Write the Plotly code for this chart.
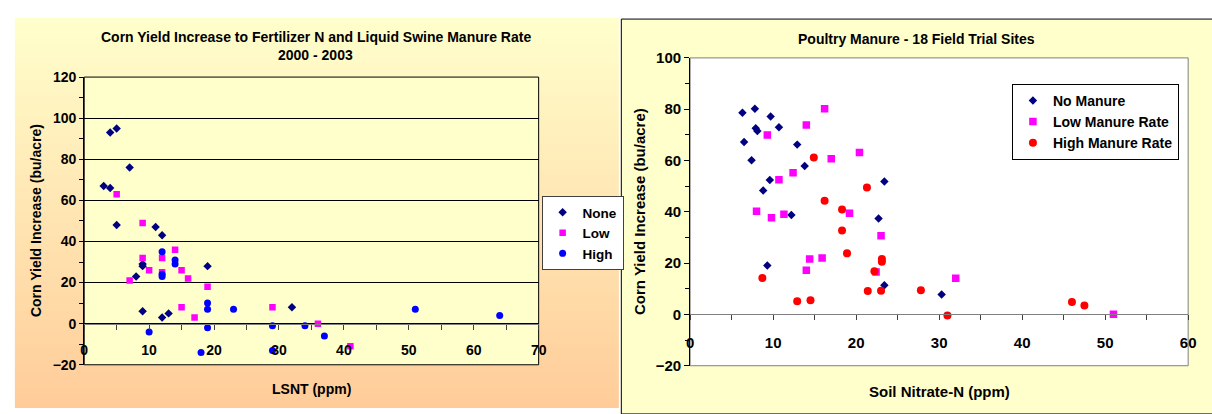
import plotly.graph_objects as go

W, H = 1212, 414

# ---------------- Left chart: swine manure, LSNT vs yield increase ----------------
none_x = [3, 4, 5, 7, 4, 5, 11, 12, 9, 9, 8, 19, 9, 12, 13, 32]
none_y = [67, 93, 95, 76, 66, 48, 47, 43, 29, 28, 23, 28, 6, 3, 5, 8]
low_x = [5, 9, 14, 9, 12, 10, 15, 12, 16, 7, 19, 15, 17, 29, 36, 41]
low_y = [63, 49, 36, 32, 32, 26, 26, 25, 22, 21, 18, 8, 3, 8, 0, -11]
high_x = [12, 14, 14, 12, 12, 19, 19, 23, 10, 19, 18, 29, 34, 37, 29, 51, 64]
high_y = [35, 31, 29, 24, 23, 10, 7, 7, -4, -2, -14, -1, -1, -6, -13, 7, 4]

# ---------------- Right chart: poultry manure, soil nitrate vs yield increase ----------------
nm_x = [6.3, 7.8, 9.7, 7.9, 8.1, 10.7, 6.5, 12.9, 7.4, 13.8, 9.6, 8.8, 12.2, 22.7, 23.4, 9.3, 23.4, 30.3]
nm_y = [78.6, 80.2, 77.2, 72.6, 71.5, 73.0, 67.2, 66.2, 60.1, 57.9, 52.4, 48.3, 38.8, 37.4, 51.8, 19.1, 11.4, 7.8]
lm_x = [16.2, 14.0, 9.3, 17.0, 20.4, 12.4, 10.7, 8.0, 9.8, 11.3, 19.2, 23.0, 14.4, 15.9, 14.0, 22.4, 32.0, 51.0]
lm_y = [80.2, 73.8, 69.9, 60.7, 63.1, 55.2, 52.5, 40.2, 37.7, 39.1, 39.4, 30.7, 21.6, 22.0, 17.2, 16.5, 14.1, 0.1]
hm_x = [14.9, 21.3, 16.2, 18.3, 18.3, 18.9, 23.1, 23.1, 8.7, 22.2, 21.4, 23.0, 12.9, 14.5, 27.8, 31.0, 46.0, 47.5]
hm_y = [61.2, 49.5, 44.3, 40.9, 32.7, 23.8, 21.6, 20.5, 14.2, 16.8, 9.1, 9.2, 5.1, 5.5, 9.4, -0.4, 4.85, 3.5]

left_title1 = "Corn Yield Increase to Fertilizer N and Liquid Swine Manure Rate"
left_title2 = "2000 - 2003"
right_title = "Poultry Manure - 18 Field Trial Sites"
y_title = "Corn Yield Increase (bu/acre)"
left_x_title = "LSNT (ppm)"
right_x_title = "Soil Nitrate-N (ppm)"

FONT = "Liberation Sans, Arial, sans-serif"
NAVY, MAGENTA, BLUE, RED = "#000080", "#FF00FF", "#0000FF", "#FF0000"


def px(x):
    return x / W


def py(y):
    return 1 - y / H


L_RANGE_X, L_RANGE_Y = [0, 70], [-20, 120]
R_RANGE_X, R_RANGE_Y = [0, 60], [-20, 100]
L_DOM_X, L_DOM_Y = [px(81), px(540)], [py(371), py(71)]
R_DOM_X, R_DOM_Y = [px(693), px(1196)], [py(372), py(51)]


def zero_pos(dom, rng):
    return dom[0] + (0 - rng[0]) / (rng[1] - rng[0]) * (dom[1] - dom[0])


fig = go.Figure()

fig.add_trace(go.Scatter(x=none_x, y=none_y, mode="markers", name="None",
                         marker=dict(symbol="diamond", size=6.5, color=NAVY),
                         xaxis="x", yaxis="y", legend="legend"))
fig.add_trace(go.Scatter(x=low_x, y=low_y, mode="markers", name="Low",
                         marker=dict(symbol="square", size=6.5, color=MAGENTA),
                         xaxis="x", yaxis="y", legend="legend"))
fig.add_trace(go.Scatter(x=high_x, y=high_y, mode="markers", name="High",
                         marker=dict(symbol="circle", size=7, color=BLUE),
                         xaxis="x", yaxis="y", legend="legend"))

fig.add_trace(go.Scatter(x=nm_x, y=nm_y, mode="markers", name="No Manure",
                         marker=dict(symbol="diamond", size=6.5, color=NAVY),
                         xaxis="x2", yaxis="y2", legend="legend2"))
fig.add_trace(go.Scatter(x=lm_x, y=lm_y, mode="markers", name="Low Manure Rate",
                         marker=dict(symbol="square", size=7.5, color=MAGENTA),
                         xaxis="x2", yaxis="y2", legend="legend2"))
fig.add_trace(go.Scatter(x=hm_x, y=hm_y, mode="markers", name="High Manure Rate",
                         marker=dict(symbol="circle", size=8, color=RED),
                         xaxis="x2", yaxis="y2", legend="legend2"))

shapes = []
# left panel gradient background (light yellow -> peach)
top_c, bot_c = (255, 255, 204), (255, 204, 153)
y_top, y_bot = 9, 416
n = 80
step = (y_bot - y_top) / n
for i in range(n):
    t = (i + 0.5) / n
    c = tuple(round(top_c[k] + (bot_c[k] - top_c[k]) * t) for k in range(3))
    y0 = y_top + i * step
    y1 = y0 + step + 0.8
    shapes.append(dict(type="rect", xref="paper", yref="paper", layer="below",
                       x0=px(11), x1=px(621), y0=py(min(y1, y_bot)), y1=py(y0),
                       fillcolor="rgb(%d,%d,%d)" % c, line=dict(width=0)))
# right panel background
shapes.append(dict(type="rect", xref="paper", yref="paper", layer="below",
                   x0=px(623.5), x1=1.02, y0=-0.02, y1=py(10.5),
                   fillcolor="#FFFFCC", line=dict(color="black", width=1)))
# plot areas
shapes.append(dict(type="rect", xref="x domain", yref="y domain", layer="below",
                   x0=0, x1=1, y0=0, y1=1, fillcolor="#FFFFCC",
                   line=dict(color="black", width=1)))
shapes.append(dict(type="rect", xref="x2 domain", yref="y2 domain", layer="below",
                   x0=0, x1=1, y0=0, y1=1, fillcolor="white",
                   line=dict(color="#808080", width=1)))

tf_l = dict(family=FONT, size=14, color="black", weight="bold")
tf_r = dict(family=FONT, size=15, color="black", weight="bold")

annotations = [
    dict(text=left_title1, x=px(315), y=py(29), xref="paper", yref="paper",
         showarrow=False, xanchor="center", yanchor="middle",
         font=dict(family=FONT, size=14, color="black", weight="bold")),
    dict(text=left_title2, x=px(315), y=py(48), xref="paper", yref="paper",
         showarrow=False, xanchor="center", yanchor="middle",
         font=dict(family=FONT, size=14, color="black", weight="bold")),
    dict(text=right_title, x=px(922), y=py(31), xref="paper", yref="paper",
         showarrow=False, xanchor="center", yanchor="middle",
         font=dict(family=FONT, size=14, color="black", weight="bold")),
    dict(text=y_title, x=px(32.5), y=py(221), xref="paper", yref="paper",
         showarrow=False, xanchor="center", yanchor="middle", textangle=-90,
         font=dict(family=FONT, size=14, color="black", weight="bold")),
    dict(text=y_title, x=px(642), y=py(211), xref="paper", yref="paper",
         showarrow=False, xanchor="center", yanchor="middle", textangle=-90,
         font=dict(family=FONT, size=15, color="black", weight="bold")),
    dict(text=left_x_title, x=px(311), y=py(396), xref="paper", yref="paper",
         showarrow=False, xanchor="center", yanchor="middle",
         font=dict(family=FONT, size=14, color="black", weight="bold")),
    dict(text=right_x_title, x=px(945), y=py(399), xref="paper", yref="paper",
         showarrow=False, xanchor="center", yanchor="middle",
         font=dict(family=FONT, size=15, color="black", weight="bold")),
]

fig.update_layout(
    width=W, height=H, autosize=False,
    margin=dict(l=0, r=0, t=0, b=0, pad=0),
    paper_bgcolor="white", plot_bgcolor="rgba(0,0,0,0)",
    font=dict(family=FONT, color="black", weight="bold"),
    shapes=shapes, annotations=annotations,
    xaxis=dict(domain=L_DOM_X, range=L_RANGE_X, anchor="free",
               position=zero_pos(L_DOM_Y, L_RANGE_Y),
               dtick=10, tick0=0, ticks="outside", ticklen=5, tickcolor="#404040",
               minor=dict(dtick=5, ticks="outside", ticklen=5, tickcolor="#404040"),
               showline=True, linecolor="#808080", linewidth=1,
               showgrid=False, zeroline=False, tickfont=tf_l, ticklabelstandoff=9),
    yaxis=dict(domain=L_DOM_Y, range=L_RANGE_Y, anchor="x",
               dtick=20, tick0=0, ticks="outside", ticklen=4, tickcolor="black",
               minor=dict(dtick=10, ticks="outside", ticklen=4, tickcolor="black"),
               showline=True, linecolor="black", linewidth=1,
               showgrid=True, gridcolor="black", gridwidth=1,
               zeroline=False, tickfont=tf_l),
    xaxis2=dict(domain=R_DOM_X, range=R_RANGE_X, anchor="free",
                position=zero_pos(R_DOM_Y, R_RANGE_Y),
                dtick=10, tick0=0, ticks="outside", ticklen=5, tickcolor="#404040",
                minor=dict(dtick=5, ticks="outside", ticklen=5, tickcolor="#404040"),
                showline=True, linecolor="#808080", linewidth=1,
                showgrid=False, zeroline=False, tickfont=tf_r, ticklabelstandoff=10),
    yaxis2=dict(domain=R_DOM_Y, range=R_RANGE_Y, anchor="x2",
                dtick=20, tick0=0, ticks="outside", ticklen=5, tickcolor="black",
                minor=dict(dtick=10, ticks="outside", ticklen=4, tickcolor="black"),
                showline=True, linecolor="black", linewidth=1,
                showgrid=False, zeroline=False, tickfont=tf_r),
    legend=dict(x=px(543), y=py(195), xanchor="left", yanchor="top",
                bgcolor="white", bordercolor="#404040", borderwidth=1,
                font=dict(family=FONT, size=13.5, color="black", weight="bold")),
    legend2=dict(x=px(1018), y=py(78), xanchor="left", yanchor="top",
                 bgcolor="white", bordercolor="black", borderwidth=1,
                 font=dict(family=FONT, size=14, color="black", weight="bold")),
    showlegend=True,
)

fig.write_html("out.html")
